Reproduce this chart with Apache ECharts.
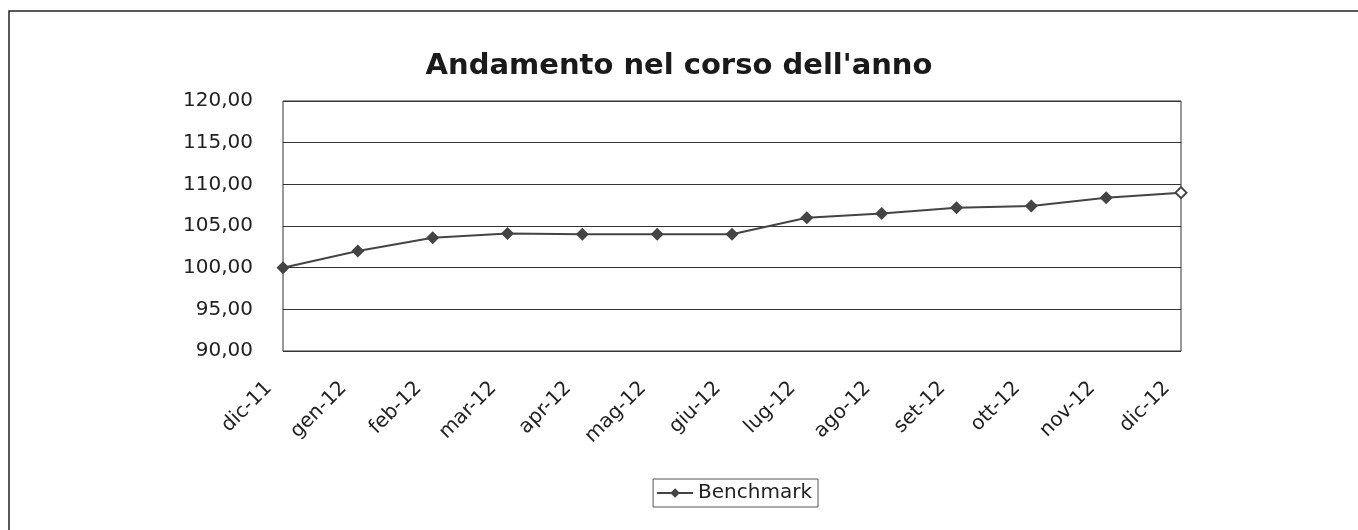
<!DOCTYPE html>
<html lang="it">
<head>
<meta charset="UTF-8">
<title>Andamento nel corso dell'anno</title>
<script src="https://cdn.jsdelivr.net/npm/echarts@6/dist/echarts.min.js"></script>
<style>
  html, body { margin: 0; padding: 0; background: #fff; }
  #chart { width: 1358px; height: 530px; }
</style>
</head>
<body>
<div id="chart"></div>
<script>
// dati
var mesi = ['dic-11', 'gen-12', 'feb-12', 'mar-12', 'apr-12', 'mag-12', 'giu-12',
            'lug-12', 'ago-12', 'set-12', 'ott-12', 'nov-12', 'dic-12'];
var benchmark = [100.0, 102.0, 103.6, 104.1, 104.0, 104.0, 104.0,
                 106.0, 106.5, 107.2, 107.4, 108.4, 109.0];
var titolo = "Andamento nel corso dell'anno";
var nomeSerie = 'Benchmark';

var font = '"DejaVu Sans", "Liberation Sans", Arial, sans-serif';
var chart = echarts.init(document.getElementById('chart'));

// ultimo punto con marcatore vuoto
var serieDati = benchmark.map(function (v, i) {
  if (i === benchmark.length - 1) {
    return { value: v, symbol: 'emptyDiamond', symbolSize: 11 };
  }
  return v;
});

chart.setOption({
  animation: false,
  textStyle: { fontFamily: font, color: '#222' },
  title: {
    text: titolo,
    left: 'center',
    top: 47,
    textStyle: { fontSize: 29, fontWeight: 'bold', color: '#1a1a1a', fontFamily: font }
  },
  graphic: [{
    type: 'rect',
    shape: { x: 9, y: 11, width: 1400, height: 600 },
    style: { fill: 'none', stroke: '#222', lineWidth: 1.5 },
    silent: true
  }],
  grid: {
    left: 283, right: 177, top: 101, bottom: 179,
    show: true, borderColor: '#333', borderWidth: 1, backgroundColor: '#fff'
  },
  legend: {
    data: [nomeSerie],
    top: 479,
    right: 540,
    itemWidth: 36,
    itemHeight: 12,
    itemGap: 3,
    padding: [4, 6, 4, 3],
    borderColor: '#555',
    borderWidth: 1,
    textStyle: { fontSize: 20, color: '#222', fontFamily: font }
  },
  xAxis: {
    type: 'category',
    data: mesi,
    boundaryGap: false,
    axisLine: { show: false },
    axisTick: { show: false },
    axisLabel: {
      rotate: 45, fontSize: 20, color: '#222', margin: 20, interval: 0,
      padding: [0, 20, 0, 0], fontFamily: font
    }
  },
  yAxis: {
    type: 'value',
    min: 90, max: 120, interval: 5,
    axisLine: { show: false },
    axisTick: { show: false },
    axisLabel: {
      fontSize: 20, color: '#222', margin: 30, fontFamily: font,
      formatter: function (v) { return v.toFixed(2).replace('.', ','); }
    },
    splitLine: { lineStyle: { color: '#333', width: 1 } }
  },
  series: [{
    name: nomeSerie,
    type: 'line',
    data: serieDati,
    symbol: 'diamond',
    symbolSize: 13,
    lineStyle: { color: '#444', width: 2 },
    itemStyle: { color: '#444' }
  }]
});
</script>
</body>
</html>
